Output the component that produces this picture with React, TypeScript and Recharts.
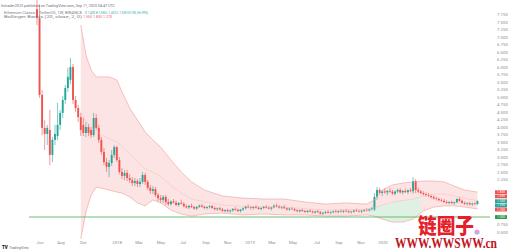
import React from "react";
import { Area, Bar, ComposedChart, Line, ReferenceLine, XAxis, YAxis } from "recharts";

const W = 509;
const H = 251;
const UP = "#26a69a";
const DOWN = "#ef5350";

// weekly candles [open, high, low, close]
const CANDLES: number[][] = [
  [7.93, 8.57, 7.4, 7.63], [7.63, 8.07, 4.97, 5.07], [5.07, 5.23, 3.73, 3.97], [3.97, 4.23, 3.23, 3.77],
  [3.77, 4.07, 3.4, 3.97], [3.9, 4.57, 2.73, 3.07], [3.07, 3.67, 2.83, 3.57], [3.57, 4.07, 3.4, 3.77],
  [3.7, 4.8, 3.57, 4.07], [4.07, 4.57, 3.9, 4.47], [4.47, 5.03, 4.3, 4.9], [4.9, 5.4, 4.77, 5.3],
  [5.3, 5.97, 5.17, 5.67], [5.57, 6.3, 5.43, 6.0], [6.0, 6.1, 4.77, 4.9], [4.9, 5.03, 4.5, 4.63],
  [4.63, 4.73, 4.17, 4.33], [4.33, 4.47, 3.7, 3.9], [4.07, 4.3, 3.7, 3.8], [3.8, 4.17, 3.67, 4.0],
  [4.0, 4.1, 3.7, 3.8], [3.9, 4.0, 3.63, 3.73], [3.73, 4.47, 3.67, 4.3], [4.3, 4.43, 3.9, 3.97],
  [3.97, 4.07, 3.47, 3.57], [3.57, 3.67, 3.07, 3.17], [3.17, 3.3, 2.73, 2.83], [2.83, 2.97, 2.5, 2.67],
  [2.67, 2.9, 2.33, 2.8], [2.8, 3.23, 2.7, 3.07], [3.07, 3.4, 2.97, 3.33], [3.33, 3.37, 2.83, 2.9],
  [2.9, 3.0, 2.43, 2.5], [2.5, 2.63, 2.27, 2.37], [2.37, 2.57, 2.23, 2.47], [2.47, 2.57, 2.2, 2.3],
  [2.3, 2.43, 2.13, 2.23], [2.23, 2.33, 2.03, 2.13], [2.13, 2.3, 2.03, 2.2], [2.2, 2.27, 2.0, 2.1],
  [2.1, 2.3, 2.0, 2.17], [2.17, 2.5, 2.1, 2.4], [2.4, 2.47, 2.07, 2.17], [2.17, 2.23, 1.9, 1.97],
  [1.97, 2.07, 1.77, 1.87], [1.87, 2.03, 1.77, 1.93], [1.93, 2.0, 1.67, 1.73], [1.73, 1.8, 1.53, 1.63],
  [1.63, 1.73, 1.47, 1.57], [1.57, 1.73, 1.47, 1.67], [1.67, 1.73, 1.4, 1.5], [1.5, 1.6, 1.37, 1.43],
  [1.43, 1.55, 1.38, 1.52], [1.52, 1.6, 1.45, 1.48], [1.48, 1.55, 1.36, 1.4], [1.4, 1.5, 1.35, 1.47],
  [1.47, 1.58, 1.42, 1.44], [1.44, 1.5, 1.32, 1.36], [1.36, 1.42, 1.28, 1.32], [1.32, 1.4, 1.26, 1.37],
  [1.37, 1.45, 1.3, 1.33], [1.33, 1.38, 1.24, 1.28], [1.28, 1.36, 1.23, 1.34], [1.34, 1.42, 1.3, 1.38],
  [1.38, 1.44, 1.31, 1.34], [1.34, 1.38, 1.26, 1.3], [1.3, 1.36, 1.25, 1.33], [1.33, 1.4, 1.28, 1.36],
  [1.36, 1.4, 1.27, 1.3], [1.3, 1.35, 1.22, 1.26], [1.26, 1.32, 1.2, 1.29], [1.29, 1.34, 1.22, 1.25],
  [1.25, 1.3, 1.17, 1.2], [1.2, 1.26, 1.15, 1.23], [1.23, 1.28, 1.16, 1.19], [1.19, 1.25, 1.14, 1.22],
  [1.22, 1.3, 1.18, 1.27], [1.27, 1.33, 1.21, 1.24], [1.24, 1.28, 1.16, 1.2], [1.2, 1.27, 1.15, 1.25],
  [1.25, 1.32, 1.2, 1.29], [1.29, 1.38, 1.25, 1.35], [1.35, 1.42, 1.29, 1.32], [1.32, 1.37, 1.25, 1.3],
  [1.3, 1.36, 1.24, 1.34], [1.34, 1.4, 1.28, 1.31], [1.31, 1.35, 1.24, 1.27], [1.27, 1.33, 1.22, 1.3],
  [1.3, 1.37, 1.26, 1.34], [1.34, 1.4, 1.28, 1.31], [1.31, 1.36, 1.25, 1.28], [1.28, 1.34, 1.22, 1.32],
  [1.32, 1.42, 1.29, 1.38], [1.38, 1.45, 1.32, 1.35], [1.35, 1.4, 1.28, 1.31], [1.31, 1.37, 1.25, 1.34],
  [1.34, 1.4, 1.27, 1.29], [1.29, 1.33, 1.21, 1.25], [1.25, 1.31, 1.2, 1.28], [1.28, 1.34, 1.23, 1.26],
  [1.26, 1.3, 1.19, 1.22], [1.22, 1.27, 1.16, 1.19], [1.19, 1.25, 1.15, 1.23], [1.23, 1.28, 1.17, 1.2],
  [1.2, 1.24, 1.14, 1.17], [1.17, 1.23, 1.13, 1.21], [1.21, 1.26, 1.16, 1.18], [1.18, 1.22, 1.12, 1.15],
  [1.15, 1.21, 1.11, 1.19], [1.19, 1.24, 1.14, 1.16], [1.16, 1.2, 1.08, 1.11], [1.11, 1.17, 1.07, 1.14],
  [1.14, 1.2, 1.1, 1.17], [1.17, 1.22, 1.12, 1.14], [1.14, 1.19, 1.09, 1.16], [1.16, 1.22, 1.12, 1.19],
  [1.19, 1.25, 1.14, 1.17], [1.17, 1.22, 1.12, 1.2], [1.2, 1.26, 1.15, 1.18], [1.18, 1.23, 1.13, 1.21],
  [1.21, 1.27, 1.16, 1.19], [1.19, 1.24, 1.13, 1.16], [1.16, 1.21, 1.11, 1.18], [1.18, 1.24, 1.14, 1.22],
  [1.22, 1.28, 1.17, 1.2], [1.2, 1.25, 1.15, 1.18], [1.18, 1.24, 1.13, 1.21], [1.21, 1.27, 1.17, 1.24],
  [1.24, 1.3, 1.19, 1.22], [1.22, 1.29, 1.18, 1.26], [1.26, 1.34, 1.22, 1.3], [1.25, 1.8, 1.2, 1.67],
  [1.67, 2.0, 1.57, 1.9], [1.9, 1.97, 1.75, 1.8], [1.8, 1.9, 1.7, 1.85], [1.85, 1.95, 1.78, 1.82],
  [1.82, 1.9, 1.72, 1.87], [1.87, 1.97, 1.8, 1.84], [1.84, 1.9, 1.74, 1.78], [1.78, 1.88, 1.72, 1.85],
  [1.85, 1.95, 1.8, 1.9], [1.9, 1.96, 1.78, 1.82], [1.82, 1.9, 1.75, 1.87], [1.87, 1.94, 1.8, 1.83],
  [1.83, 1.92, 1.76, 1.89], [1.89, 1.97, 1.82, 1.86], [1.86, 2.33, 1.77, 2.2], [2.2, 2.27, 1.8, 1.9],
  [1.9, 1.98, 1.8, 1.85], [1.85, 1.9, 1.76, 1.8], [1.8, 1.86, 1.72, 1.76], [1.76, 1.82, 1.68, 1.73],
  [1.73, 1.8, 1.67, 1.7], [1.7, 1.76, 1.62, 1.66], [1.66, 1.72, 1.58, 1.62], [1.62, 1.68, 1.55, 1.6],
  [1.6, 1.65, 1.52, 1.56], [1.56, 1.62, 1.5, 1.54], [1.54, 1.6, 1.46, 1.5], [1.5, 1.56, 1.44, 1.47],
  [1.47, 1.53, 1.42, 1.5], [1.5, 1.55, 1.43, 1.46], [1.46, 1.52, 1.41, 1.49], [1.49, 1.62, 1.46, 1.6],
  [1.6, 1.66, 1.5, 1.54], [1.54, 1.58, 1.44, 1.47], [1.47, 1.52, 1.4, 1.44], [1.44, 1.5, 1.38, 1.46],
  [1.46, 1.51, 1.39, 1.42], [1.42, 1.48, 1.37, 1.45], [1.45, 1.5, 1.4, 1.43], [1.43, 1.55, 1.41, 1.53],
];

// Bollinger band points (candle index -> value)
const BB_INDEX = [17, 19, 21, 23, 28, 31, 33, 36, 39, 42, 45, 48, 52, 56, 60, 65, 72, 80, 88, 96, 104, 112, 120, 128, 131, 134, 138, 142, 146, 150, 154, 158, 162, 166, 171];
const BB_UPPER = [7.4, 6.4, 5.9, 5.67, 5.67, 5.57, 5.17, 4.63, 4.23, 3.83, 3.57, 3.33, 2.9, 2.5, 2.17, 1.9, 1.7, 1.63, 1.6, 1.6, 1.5, 1.43, 1.47, 1.43, 1.57, 1.9, 2.07, 2.13, 2.17, 2.2, 2.2, 2.17, 2.03, 1.9, 1.83];
const BB_MID = [4.5, 4.2, 4.0, 3.85, 3.6, 3.5, 3.35, 3.1, 2.85, 2.6, 2.5, 2.35, 2.05, 1.8, 1.6, 1.5, 1.4, 1.35, 1.35, 1.33, 1.28, 1.23, 1.25, 1.25, 1.3, 1.4, 1.5, 1.55, 1.6, 1.7, 1.76, 1.77, 1.7, 1.62, 1.55];
const BB_LOWER = [0.27, 1.17, 1.73, 2.0, 1.9, 1.83, 1.8, 1.67, 1.47, 1.37, 1.57, 1.47, 1.23, 1.1, 1.03, 1.1, 1.13, 1.07, 1.1, 1.07, 1.07, 1.03, 1.03, 1.07, 1.03, 0.93, 0.83, 0.83, 0.93, 1.2, 1.33, 1.37, 1.37, 1.33, 1.27];

// green lower half of the band during the 2020 rally
const GREEN_INDEX = [129, 131, 134, 138, 142, 146, 149];
const GREEN_LOWER = [1.07, 1.03, 0.93, 0.83, 0.83, 0.93, 1.12];
const GREEN_MID = [1.25, 1.3, 1.4, 1.5, 1.55, 1.6, 1.66];

const TIME_TICKS = [1.2, 9.3, 17.9, 31.1, 39.6, 48.1, 56.7, 65.6, 74.1, 82.7, 91.2, 99.4, 108.7, 117.2, 125.8, 134.3];
const TIME_LABELS = ["Jun", "Aug", "Oct", "2018", "Mar", "May", "Jul", "Sep", "Nov", "2019", "Mar", "May", "Jul", "Sep", "Nov", "2020"];

// axis labels hidden behind the price tags are left out, as on the original
const PRICE_TICKS = [0.5, 0.75, 2.25, 2.5, 2.75, 3, 3.25, 3.5, 3.75, 4, 4.25, 4.5, 4.75, 5, 5.25, 5.5, 5.75, 6, 6.25, 6.5, 6.75, 7, 7.25, 7.5, 7.75];

const TAG_VALUES = [1.83, 1.69, 1.53, 1.39, 1.25];
const TAG_COLORS = [DOWN, DOWN, UP, UP, DOWN];
const PRICE_LINE = 1.0;

const rows = CANDLES.map(([o, h, l, c], i) => ({ i, o, h, l, c }));
const band = BB_INDEX.map((i, k) => ({ i, band: [BB_LOWER[k], BB_UPPER[k]], upper: BB_UPPER[k], mid: BB_MID[k], lower: BB_LOWER[k] }));
const greenBand = GREEN_INDEX.map((i, k) => ({ i, band: [GREEN_LOWER[k], GREEN_MID[k]] }));

function Candle(props: any) {
  const { x, y, width, height, payload } = props;
  const { o, h, l, c } = payload;
  const top = Math.min(y, y + height);
  const hgt = Math.abs(height);
  const color = c >= o ? UP : DOWN;
  const cx = x + width / 2;
  const k = hgt / (h - l || 1);
  const bodyTop = top + (h - Math.max(o, c)) * k;
  const bodyH = Math.max(Math.abs(o - c) * k, 0.6);
  return (
    <g>
      <line x1={cx} x2={cx} y1={top} y2={top + hgt} stroke={color} strokeWidth={0.6} />
      <rect x={cx - 0.95} y={bodyTop} width={1.9} height={bodyH} fill={color} />
    </g>
  );
}

function TimeTick(props: any) {
  const { x, payload } = props;
  const label = TIME_LABELS[TIME_TICKS.indexOf(payload.value)] ?? "";
  return (
    <text x={x} y={243.6} fontSize={4.3} fill="#8a8d96" textAnchor="middle">
      {label}
    </text>
  );
}

function tag(value: number, color: string) {
  return (props: any) => {
    const vb = props.viewBox;
    const x = vb.x + vb.width + 5;
    return (
      <g>
        <rect x={x} y={vb.y - 1.9} width={12} height={3.8} fill={color} rx={0.4} />
        <text x={x + 6} y={vb.y + 1.1} fontSize={3.1} fill="#fff" textAnchor="middle">
          {value.toFixed(3)}
        </text>
      </g>
    );
  };
}

export default function App() {
  return (
    <div style={{ position: "relative", width: W, height: H, background: "#fff", fontFamily: "Roboto, sans-serif" }}>
      <style>{"body{margin:0}"}</style>
      <ComposedChart width={W} height={H} data={rows} margin={{ top: 0, right: 0, bottom: 0, left: 29 }}>
        <XAxis xAxisId="c" dataKey="i" type="category" hide padding={{ left: 6.7, right: 11.2 }} />
        <XAxis
          xAxisId="n"
          dataKey="i"
          type="number"
          domain={[-3.106, 175.85]}
          allowDataOverflow
          ticks={TIME_TICKS}
          interval={0}
          height={12}
          axisLine={false}
          tickLine={false}
          tick={<TimeTick />}
        />
        <YAxis
          orientation="right"
          width={19}
          domain={[0.2667, 8.2333]}
          allowDataOverflow
          ticks={PRICE_TICKS}
          interval={0}
          tickFormatter={(v) => v.toFixed(3)}
          axisLine={false}
          tickLine={false}
          tickSize={0}
          tickMargin={7}
          tick={{ fontSize: 4.3, fill: "#8a8d96" }}
        />
        <Area xAxisId="n" data={band} dataKey="band" type="linear" stroke="none" fill="#fde4e4" fillOpacity={1} isAnimationActive={false} />
        <Area xAxisId="n" data={greenBand} dataKey="band" type="linear" stroke="none" fill="#dff1e3" fillOpacity={1} isAnimationActive={false} />
        <Line xAxisId="n" data={band} dataKey="upper" type="linear" stroke="#f29a9a" strokeWidth={0.6} dot={false} isAnimationActive={false} />
        <Line xAxisId="n" data={band} dataKey="mid" type="linear" stroke="#f6b8b8" strokeWidth={0.5} dot={false} isAnimationActive={false} />
        <Line xAxisId="n" data={band} dataKey="lower" type="linear" stroke="#f29a9a" strokeWidth={0.6} dot={false} isAnimationActive={false} />
        <ReferenceLine xAxisId="n" y={PRICE_LINE} stroke="#4caf50" strokeWidth={0.8} label={tag(PRICE_LINE, "#2e9d4a")} />
        <Bar xAxisId="c" dataKey={(d: any) => [d.l, d.h]} shape={Candle} isAnimationActive={false} />
        {TAG_VALUES.map((v, k) => (
          <ReferenceLine key={k} xAxisId="n" y={v} stroke="none" label={tag(v, TAG_COLORS[k])} />
        ))}
      </ComposedChart>
      <svg width={W} height={H} style={{ position: "absolute", left: 0, top: 0, pointerEvents: "none" }}>
        <text x={1} y={7.3} fontSize={4} fill="#6a6d78" textLength={114} lengthAdjust="spacingAndGlyphs">
          hntrader2023 published on TradingView.com, Sep 11, 2020 04:47 UTC
        </text>
        <text x={4} y={14} fontSize={3.6} fill="#7a7d88" textLength={78} lengthAdjust="spacingAndGlyphs">
          Ethereum Classic / TetherUS, 1W, BINANCE
        </text>
        <text x={85} y={14} fontSize={3.6} fill={UP} textLength={63} lengthAdjust="spacingAndGlyphs">
          O 1.430 H 1.550 L 1.410 C 1.530 +0.100 (+6.99%)
        </text>
        <text x={4} y={18.3} fontSize={3.6} fill="#7a7d88" textLength={78} lengthAdjust="spacingAndGlyphs">
          Bollinger Bands (20, close, 2, 0)
        </text>
        <text x={83} y={18.3} fontSize={3.6} fill="#f0616d" textLength={29} lengthAdjust="spacingAndGlyphs">
          1.550 1.830 1.270
        </text>
        <text x={2} y={249} fontSize={4.5} fontWeight={900} fill="#131722">TV</text>
        <text x={9} y={249} fontSize={3.6} fill="#6a6d78">TradingView</text>
        <text x={418} y={233} fontSize={21} fontWeight={900} fill="#e5202a" fontFamily="Noto Sans CJK SC" textLength={56} lengthAdjust="spacingAndGlyphs">
          链圈子
        </text>
        <circle cx={477} cy={232} r={2.6} fill="#cfa6dc" />
        <text x={395} y={248} fontSize={14} fontWeight={700} fill="#c0141c" fontFamily="Liberation Serif, serif" textLength={102} lengthAdjust="spacingAndGlyphs">
          WWW.WWSWW.cn
        </text>
      </svg>
    </div>
  );
}
